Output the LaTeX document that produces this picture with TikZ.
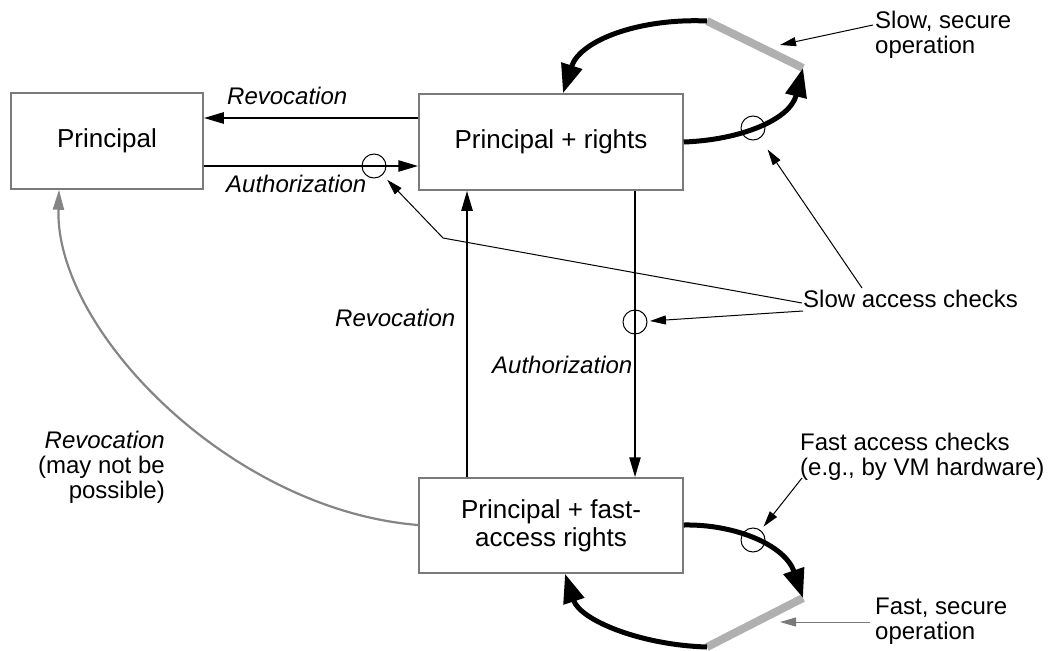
\documentclass[tikz,border=0pt]{standalone}
\usepackage{fontspec}
\setmainfont{Liberation Sans}
\usetikzlibrary{arrows.meta}
\definecolor{boxgray}{HTML}{7A7A7A}
\definecolor{bargray}{HTML}{B0B0B0}
\definecolor{revgray}{HTML}{858585}
\begin{document}
\begin{tikzpicture}[x=1pt,y=-1pt,
  box/.style={draw=boxgray, line width=1.5pt, fill=white, inner sep=0pt,
    font=\fontsize{26}{28}\selectfont, align=center},
  lbl/.style={font=\fontsize{24}{25}\selectfont, inner sep=0pt},
  ital/.style={lbl, font=\fontsize{24}{25}\selectfont\itshape},
  flow/.style={line width=2.5pt, -{Triangle[length=20pt,width=11pt]}},
  loopline/.style={line width=5pt, -{Triangle[length=29pt,width=21pt]}},
  pointer/.style={line width=1pt, -{Triangle[length=16pt,width=9pt]}},
  bar/.style={line width=8pt, draw=bargray},
  check/.style={circle, draw, line width=1pt, minimum size=24pt, inner sep=0pt},
]
\useasboundingbox (0,0) rectangle (1048,650);

% states
\node[box, minimum width=192pt, minimum height=96pt] (p)  at (107,141) {Principal};
\node[box, minimum width=264pt, minimum height=96pt] (pr) at (551,142) {Principal + rights};
\node[box, minimum width=264pt, minimum height=95pt] (fr) at (551,525.5) {Principal + fast-\\access rights};

% helper coordinates for connector rows and columns
\coordinate (ry) at (0,118);
\coordinate (ay) at (0,166);
\coordinate (upx) at (467,0);
\coordinate (downx) at (635,0);
\coordinate (ly) at (0,142);
\coordinate (fy) at (0,525);
\coordinate (gx) at (59,0);
\coordinate (ax) at (563,0);
\coordinate (bx) at (565,0);

% secure-operation bars
\coordinate (tb1) at (707,21);
\coordinate (tb2) at (803,68);
\coordinate (bb1) at (803,598);
\coordinate (bb2) at (707,647);
\draw[bar] (tb1) -- (tb2);
\draw[bar] (bb1) -- (bb2);

% transitions between states
\draw[flow] (pr.west |- ry) -- (p.east |- ry);
\draw[flow] (p.east |- ay) -- (pr.west |- ay);
\draw[flow] (fr.north -| upx) -- (pr.south -| upx);
\draw[flow] (pr.south -| downx) -- (fr.north -| downx);
\draw[revgray, line width=2.2pt, -{Triangle[length=20pt,width=11pt]}]
  (fr.west |- fy) .. controls (230,510) and (55,330) .. (p.south -| gx);

% loops through the secure operations
\draw[loopline] (pr.east |- ly) .. controls (740,140) and (790,120) .. (tb2);
\draw[loopline] (tb1) .. controls (640,18) and (580,40) .. (pr.north -| ax);
\draw[loopline] (fr.east |- fy) .. controls (735,524) and (785,545) .. (bb1);
\draw[loopline] (bb2) .. controls (640,645) and (580,620) .. (fr.south -| bx);

% access checks
\node[check] (c1) at (374,166) {};
\node[check] (c2) at (635,322) {};
\node[check] (c3) at (753,128) {};
\node[check] (c4) at (753,540) {};

% labels
\node[ital, anchor=base west] (l1) at (227,105) {Revocation};
\node[ital, anchor=base west] (l2) at (226,192) {Authorization};
\node[ital, anchor=base west] (l3) at (335,326) {Revocation};
\node[ital, anchor=base west] (l4) at (492,373) {Authorization};
\node[lbl, align=right, anchor=north east] (l5) at (165,430.5)
  {\itshape Revocation\\(may not be\\possible)};
\node[lbl, anchor=base west] (sac) at (803,307) {Slow access checks};
\node[lbl, align=left, anchor=north west] (sso) at (875,11) {Slow, secure\\operation};
\node[lbl, align=left, anchor=north west] (fac) at (800,433) {Fast access checks\\(e.g., by VM hardware)};
\node[lbl, align=left, anchor=north west] (fso) at (875,598) {Fast, secure\\operation};

% pointers from the labels
\coordinate (sacA) at (802,303);
\coordinate (bend) at (443,238);
\coordinate (sacB) at (803,311);
\coordinate (sacC) at (862,288);
\coordinate (ssoA) at (873,25);
\coordinate (ssoT) at (780,45);
\coordinate (facA) at (802,478);
\coordinate (fsoA) at (870,622);
\coordinate (fsoT) at (780,622);
\draw[pointer, shorten >=19pt] (sacA) -- (bend) -- (c1.center);
\draw[pointer, shorten >=15pt] (sacB) -- (c2.center);
\draw[pointer, shorten >=26pt] (sacC) -- (c3.center);
\draw[pointer, shorten >=17pt] (facA) -- (c4.center);
\draw[pointer] (ssoA) -- (ssoT);
\draw[pointer, draw=boxgray] (fsoA) -- (fsoT);
\end{tikzpicture}
\end{document}
